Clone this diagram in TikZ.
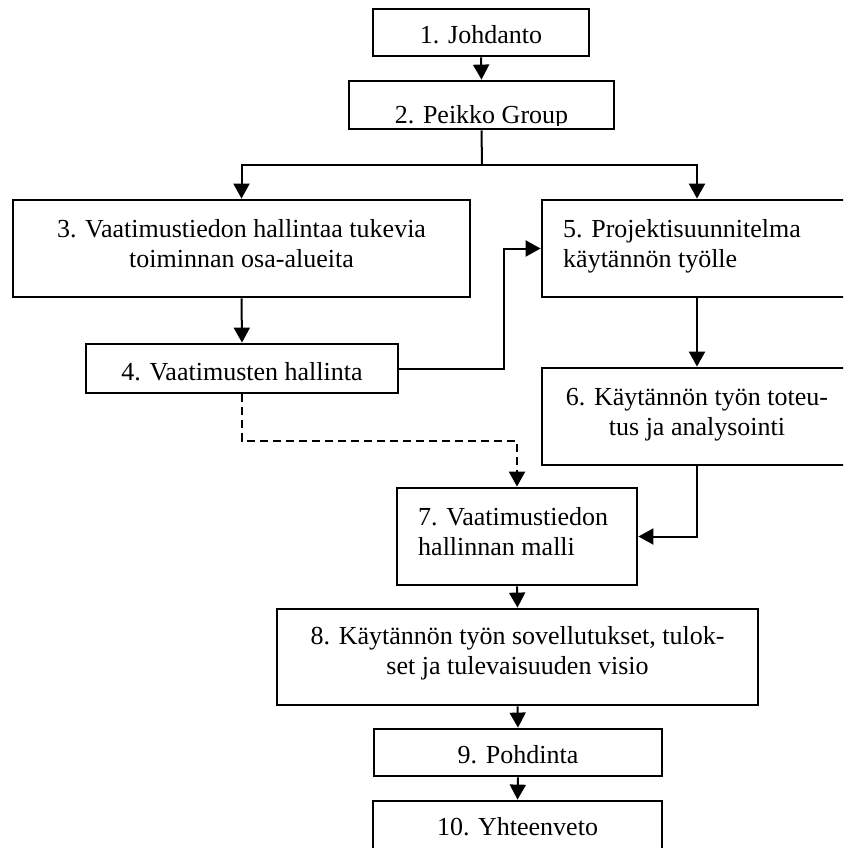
\documentclass[tikz,border=0pt]{standalone}
\usepackage{fontspec}
\setmainfont{Liberation Serif}
\usetikzlibrary{arrows.meta}
\begin{document}
\begin{tikzpicture}[x=1pt,y=-1pt,
  box/.style={draw, line width=2.8pt, inner sep=0pt, rectangle},
  txt/.style={inner sep=0pt, anchor=base, font=\fontsize{26}{30}\selectfont},
  ltxt/.style={txt, anchor=base west},
  conn/.style={line width=2pt, -{Triangle[length=15pt,width=16pt]}},
  dconn/.style={conn, dash pattern=on 8pt off 5pt}]
\clip (0,0) rectangle (843,848);
\useasboundingbox (0,0) rectangle (843,848);
% boxes
\node[box, minimum width=216pt, minimum height=47pt] (b1) at (481,32.5) {};
\node[box, minimum width=265pt, minimum height=48pt] (b2) at (481.5,105) {};
\node[box, minimum width=457pt, minimum height=97pt] (b3) at (241.5,248.5) {};
\node[box, minimum width=312pt, minimum height=49pt] (b4) at (242,368.5) {};
\node[box, minimum width=310pt, minimum height=97pt] (b5) at (697,248.5) {};
\node[box, minimum width=310pt, minimum height=97pt] (b6) at (697,416.5) {};
\node[box, minimum width=240pt, minimum height=97pt] (b7) at (517,536.5) {};
\node[box, minimum width=481pt, minimum height=96pt] (b8) at (517.5,657) {};
\node[box, minimum width=288pt, minimum height=47pt] (b9) at (518,752.5) {};
\node[box, minimum width=289pt, minimum height=69pt] (b10) at (517.5,835.5) {};
% texts
\node[txt] (t1) at (481,44) {1. Johdanto};
\begin{scope}
\clip (349,81) rectangle (614,126);
\node[txt] (t2) at (481.5,124) {2. Peikko Group};
\end{scope}
\node[txt] (t3a) at (241.5,237) {3. Vaatimustiedon hallintaa tukevia};
\node[txt] (t3b) at (241.5,267) {toiminnan osa-alueita};
\node[txt] (t4) at (242,380) {4. Vaatimusten hallinta};
\node[ltxt] (t5a) at (563,237) {5. Projektisuunnitelma};
\node[ltxt] (t5b) at (563,267) {käytännön työlle};
\node[txt] (t6a) at (697,405) {6. Käytännön työn toteu-};
\node[txt] (t6b) at (697,435) {tus ja analysointi};
\node[ltxt] (t7a) at (418,525) {7. Vaatimustiedon};
\node[ltxt] (t7b) at (418,555) {hallinnan malli};
\node[txt] (t8a) at (517.5,644) {8. Käytännön työn sovellutukset, tulok-};
\node[txt] (t8b) at (517.5,674) {set ja tulevaisuuden visio};
\node[txt] (t9) at (518,763) {9. Pohdinta};
\node[txt] (t10) at (517.5,835) {10. Yhteenveto};
% connectors
\coordinate (j) at (482,165);
\coordinate (k) at (504,368.5);
\coordinate (d) at (242,441);
\draw[conn] (b1.south) -- (b2.north);
\draw[line width=2pt] (b2.south) -- (j);
\draw[conn] (j) -| (b3.north);
\draw[conn] (j) -| (b5.north);
\draw[conn] (b3.south) -- (b4.north);
\draw[conn] (b4.east) -- (k) |- (b5.west);
\draw[conn] (b5.south) -- (b6.north);
\draw[dconn] (b4.south) -- (d) -| (b7.north);
\draw[conn] (b6.south) |- (b7.east);
\draw[conn] (b7.south) -- (b8.north);
\draw[conn] (b8.south) -- (b9.north);
\draw[conn] (b9.south) -- (b10.north);
\end{tikzpicture}
\end{document}
